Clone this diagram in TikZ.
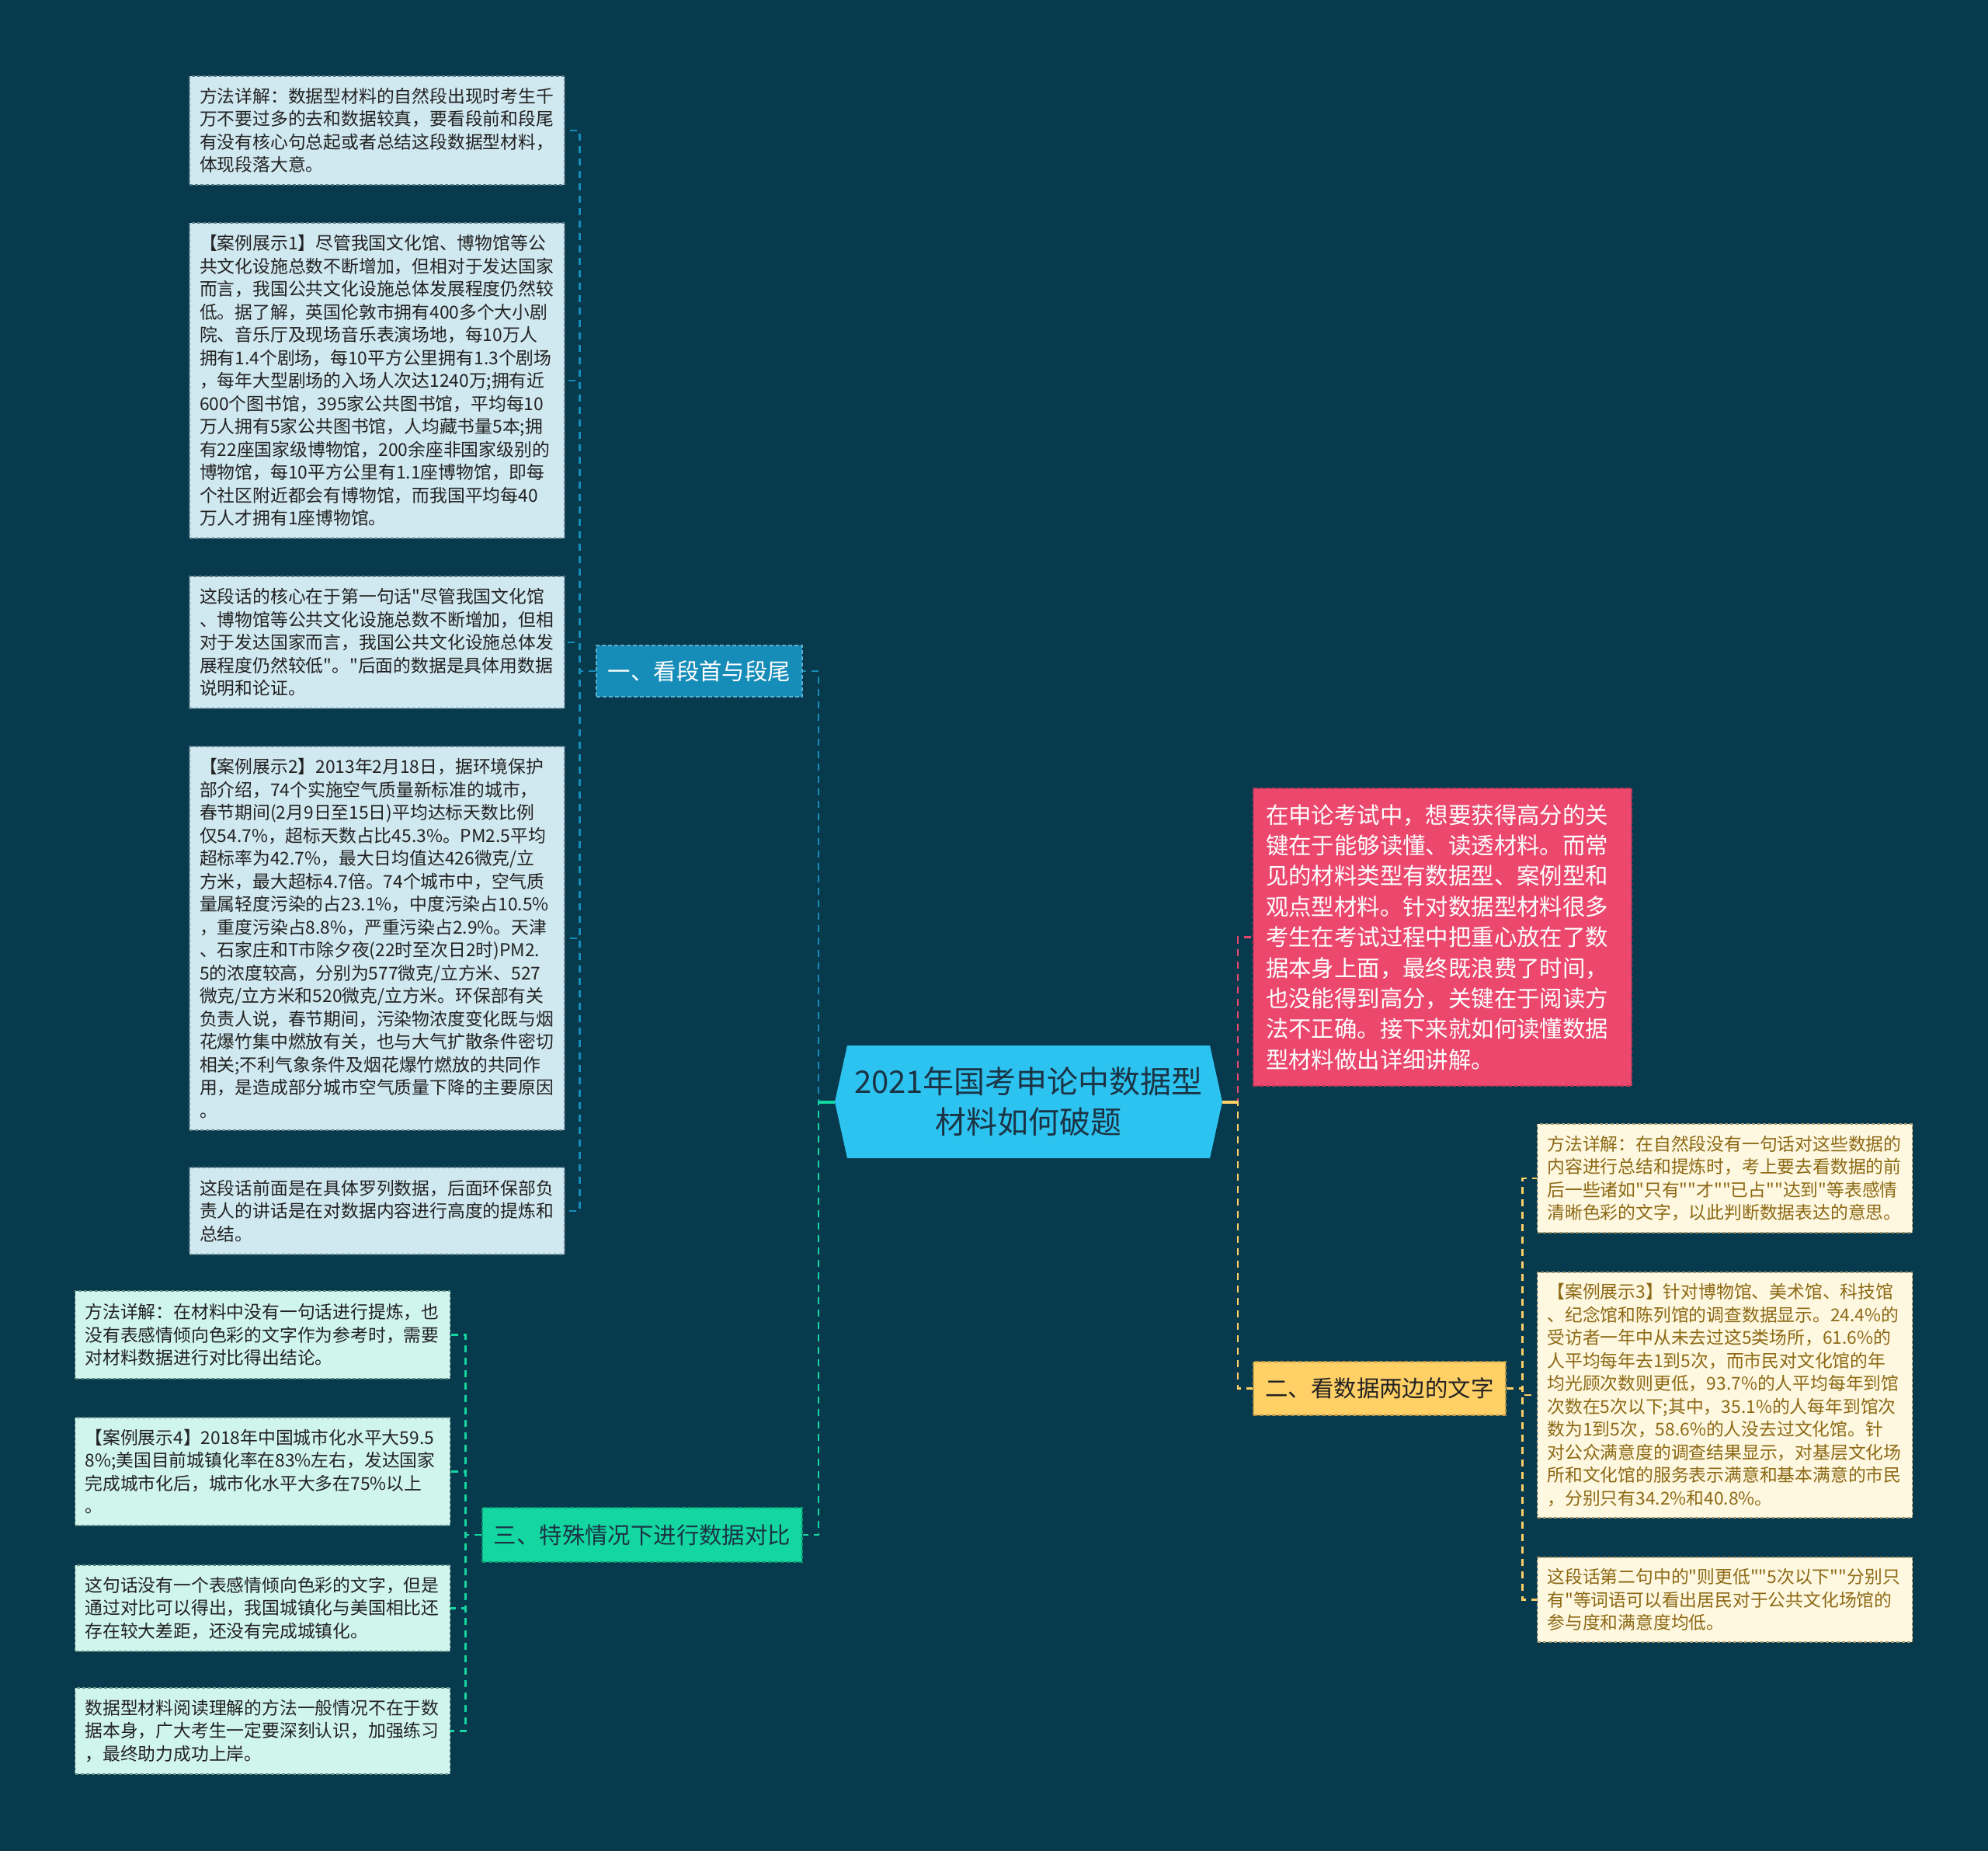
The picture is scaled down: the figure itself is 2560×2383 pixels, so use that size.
\documentclass[tikz,border=0pt]{standalone}
\usepackage{fontspec}
\newfontfamily\cjk{Noto Sans CJK SC}
\definecolor{bg}{HTML}{083A4D}
\definecolor{cen}{HTML}{2DC3F0}
\definecolor{centxt}{HTML}{1B3445}
\definecolor{bone}{HTML}{168CB9}
\definecolor{btwo}{HTML}{FFD066}
\definecolor{bthree}{HTML}{13D6A0}
\definecolor{bred}{HTML}{EC486E}
\definecolor{aF}{HTML}{D0E8F0}
\definecolor{aD}{HTML}{5E7F8C}
\definecolor{cF}{HTML}{D0F5EC}
\definecolor{cD}{HTML}{5E8C80}
\definecolor{bF}{HTML}{FFF8E1}
\definecolor{bD}{HTML}{A89A70}
\definecolor{bT}{HTML}{8C6914}
\definecolor{dk}{HTML}{222222}
\begin{document}
\begin{tikzpicture}[x=0.5pt,y=-0.5pt,
  leaf/.style={rectangle, align=left, inner xsep=6.5pt, inner ysep=0pt,
    text width=228.5pt, minimum width=241.5pt,
    font=\cjk\fontsize{11.4}{14.75}\selectfont, line width=0.6pt,
    dash pattern=on 2pt off 1.5pt},
  leafA/.style={leaf, fill=aF, draw=aD, text=dk},
  leafB/.style={leaf, fill=bF, draw=bD, text=bT},
  leafC/.style={leaf, fill=cF, draw=cD, text=dk},
  branch/.style={rectangle, inner sep=0pt, font=\cjk\fontsize{14.7}{17}\selectfont,
    line width=0.6pt, dash pattern=on 2.5pt off 1.5pt},
  conn/.style={line width=1.2pt, dash pattern=on 4.5pt off 3.5pt},
  stub/.style={line width=2pt}
]
\fill[bg] (0,0) rectangle (2560,2383);
\useasboundingbox (0,0) rectangle (2560,2383);

% central hexagon
\fill[cen] (1075,1418.5) -- (1091,1346) -- (1558,1346) -- (1574,1418.5) -- (1558,1491) -- (1091,1491) -- cycle;
\node[align=center, text=centxt, font=\cjk\fontsize{20}{26}\selectfont] (center) at (1324.5,1418.5) {2021年国考申论中数据型\\材料如何破题};
\coordinate (cL) at (1075,1418.5);
\coordinate (cR) at (1574,1418.5);

% branches
\node[branch, fill=bone, draw=bone!70!white, text=white, minimum width=132.5pt, minimum height=33pt] (b1) at (900.5,864) {一、看段首与段尾};
\node[branch, fill=btwo, draw=btwo!70!black, text=dk, minimum width=162.5pt, minimum height=34.5pt] (b2) at (1776.5,1787.5) {二、看数据两边的文字};
\node[branch, fill=bthree, draw=bthree!70!black, text=centxt, minimum width=206pt, minimum height=35pt] (b3) at (827,1976) {三、特殊情况下进行数据对比};
\node[rectangle, fill=bred, draw=bred!80!black, line width=0.6pt, dash pattern=on 2.5pt off 1.5pt, text=white, align=left, inner xsep=8pt, inner ysep=0pt, text width=227.5pt, minimum width=243.5pt, minimum height=191.5pt, font=\cjk\fontsize{14.7}{19.7}\selectfont] (red) at (1857.5,1206.5) {在申论考试中，想要获得高分的关\\
键在于能够读懂、读透材料。而常\\
见的材料类型有数据型、案例型和\\
观点型材料。针对数据型材料很多\\
考生在考试过程中把重心放在了数\\
据本身上面，最终既浪费了时间，\\
也没能得到高分，关键在于阅读方\\
法不正确。接下来就如何读懂数据\\
型材料做出详细讲解。};

% branch 1 leaves
\node[leafA, minimum height=70pt] (a1) at (485.5,168) {方法详解：数据型材料的自然段出现时考生千\\
万不要过多的去和数据较真，要看段前和段尾\\
有没有核心句总起或者总结这段数据型材料，\\
体现段落大意。};
\node[leafA, minimum height=203pt] (a2) at (485.5,490) {【案例展示1】尽管我国文化馆、博物馆等公\\
共文化设施总数不断增加，但相对于发达国家\\
而言，我国公共文化设施总体发展程度仍然较\\
低。据了解，英国伦敦市拥有400多个大小剧\\
院、音乐厅及现场音乐表演场地，每10万人\\
拥有1.4个剧场，每10平方公里拥有1.3个剧场\\
，每年大型剧场的入场人次达1240万;拥有近\\
600个图书馆，395家公共图书馆，平均每10\\
万人拥有5家公共图书馆，人均藏书量5本;拥\\
有22座国家级博物馆，200余座非国家级别的\\
博物馆，每10平方公里有1.1座博物馆，即每\\
个社区附近都会有博物馆，而我国平均每40\\
万人才拥有1座博物馆。};
\node[leafA, minimum height=85pt] (a3) at (485.5,827) {这段话的核心在于第一句话"尽管我国文化馆\\
、博物馆等公共文化设施总数不断增加，但相\\
对于发达国家而言，我国公共文化设施总体发\\
展程度仍然较低"。"后面的数据是具体用数据\\
说明和论证。};
\node[leafA, minimum height=247pt] (a4) at (485.5,1208) {【案例展示2】2013年2月18日，据环境保护\\
部介绍，74个实施空气质量新标准的城市，\\
春节期间(2月9日至15日)平均达标天数比例\\
仅54.7\%，超标天数占比45.3\%。PM2.5平均\\
超标率为42.7\%，最大日均值达426微克/立\\
方米，最大超标4.7倍。74个城市中，空气质\\
量属轻度污染的占23.1\%，中度污染占10.5\%\\
，重度污染占8.8\%，严重污染占2.9\%。天津\\
、石家庄和T市除夕夜(22时至次日2时)PM2.\\
5的浓度较高，分别为577微克/立方米、527\\
微克/立方米和520微克/立方米。环保部有关\\
负责人说，春节期间，污染物浓度变化既与烟\\
花爆竹集中燃放有关，也与大气扩散条件密切\\
相关;不利气象条件及烟花爆竹燃放的共同作\\
用，是造成部分城市空气质量下降的主要原因\\
。};
\node[leafA, minimum height=56pt] (a5) at (485.5,1559) {这段话前面是在具体罗列数据，后面环保部负\\
责人的讲话是在对数据内容进行高度的提炼和\\
总结。};

% branch 2 leaves
\node[leafB, minimum height=70pt] (r1) at (2221,1517) {方法详解：在自然段没有一句话对这些数据的\\
内容进行总结和提炼时，考上要去看数据的前\\
后一些诸如"只有""才""已占""达到"等表感情\\
清晰色彩的文字，以此判断数据表达的意思。};
\node[leafB, minimum height=158pt] (r2) at (2221,1796) {【案例展示3】针对博物馆、美术馆、科技馆\\
、纪念馆和陈列馆的调查数据显示。24.4\%的\\
受访者一年中从未去过这5类场所，61.6\%的\\
人平均每年去1到5次，而市民对文化馆的年\\
均光顾次数则更低，93.7\%的人平均每年到馆\\
次数在5次以下;其中，35.1\%的人每年到馆次\\
数为1到5次，58.6\%的人没去过文化馆。针\\
对公众满意度的调查结果显示，对基层文化场\\
所和文化馆的服务表示满意和基本满意的市民\\
，分别只有34.2\%和40.8\%。};
\node[leafB, minimum height=54.5pt] (r3) at (2221,2059.5) {这段话第二句中的"则更低""5次以下""分别只\\
有"等词语可以看出居民对于公共文化场馆的\\
参与度和满意度均低。};

% branch 3 leaves
\node[leafC, minimum height=56.5pt] (c1) at (338,1718.5) {方法详解：在材料中没有一句话进行提炼，也\\
没有表感情倾向色彩的文字作为参考时，需要\\
对材料数据进行对比得出结论。};
\node[leafC, minimum height=69.5pt] (c2) at (338,1894.5) {【案例展示4】2018年中国城市化水平大59.5\\
8\%;美国目前城镇化率在83\%左右，发达国家\\
完成城市化后，城市化水平大多在75\%以上\\
。};
\node[leafC, minimum height=55.5pt] (c3) at (338,2070.5) {这句话没有一个表感情倾向色彩的文字，但是\\
通过对比可以得出，我国城镇化与美国相比还\\
存在较大差距，还没有完成城镇化。};
\node[leafC, minimum height=55.5pt] (c4) at (338,2228.5) {数据型材料阅读理解的方法一般情况不在于数\\
据本身，广大考生一定要深刻认识，加强练习\\
，最终助力成功上岸。};

% connectors: center to branches
\draw[conn, bone] (cL) -- ++(-21,0) |- (b1.east);
\draw[conn, bthree] (cL) -- ++(-21,0) |- (b3.east);
\draw[stub, bthree] (cL) -- ++(-21,0);
\draw[conn, bred] (cR) -- ++(20,0) |- (red.west);
\draw[conn, btwo] (cR) -- ++(20,0) |- (b2.west);
\draw[stub, btwo] (cR) -- ++(20,0);

% branch 1 to leaves
\foreach \n in {a1,a2,a3,a4,a5}
  \draw[conn, bone] (b1.west) -- ++(-21,0) |- (\n.east);
% branch 2 to leaves
\foreach \n in {r1,r2,r3}
  \draw[conn, btwo] (b2.east) -- ++(21,0) |- (\n.west);
% branch 3 to leaves
\foreach \n in {c1,c2,c3,c4}
  \draw[conn, bthree] (b3.west) -- ++(-21,0) |- (\n.east);
\end{tikzpicture}
\end{document}
